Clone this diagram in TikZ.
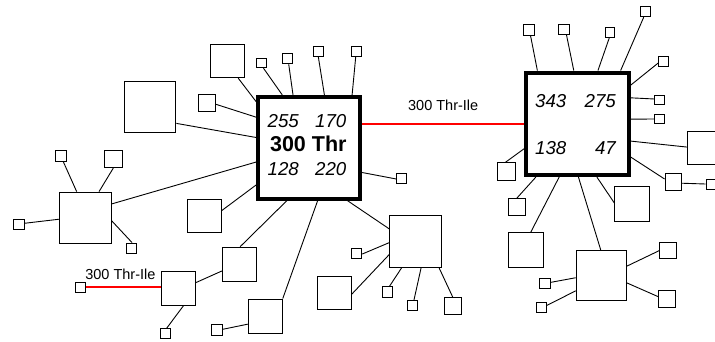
\documentclass[tikz,border=0pt]{standalone}
\usepackage{fontspec}
\setmainfont{Liberation Sans}
\usepackage{tikz}
\usepackage{xcolor}

\begin{document}
\begin{tikzpicture}[x=1pt, y=-1pt,
	hub/.style={draw, line width=4pt, minimum size=#1, inner sep=0pt},
	box/.style={draw, line width=0.95pt, minimum size=#1, inner sep=0pt},
	link/.style={line width=0.9pt},
	mut/.style={draw=red, line width=2pt},
	num/.style={font=\fontsize{18.7}{20}\selectfont\itshape, inner sep=0pt, anchor=base},
	lbl/.style={font=\fontsize{14.5}{16}\selectfont, inner sep=2pt}]

	\useasboundingbox (0,0) rectangle (715,341);

	% Two main residues
	\node[hub=102pt] (thr) at (309.2,147.8) {};
	\node[hub=102.5pt] (nbr) at (577.5,123.8) {};

	% Numbers in the boxes
	\node[num] (t255) at (283.3,127.7) {255};
	\node[num] (t170) at (330.8,127.7) {170};
	\node[num, font=\fontsize{21.5}{24}\selectfont\bfseries] (tname) at (308.3,151.7) {300 Thr};
	\node[num] (t128) at (283.3,175) {128};
	\node[num] (t220) at (330.8,175) {220};
	\node[num] (n343) at (550.8,107.7) {343};
	\node[num] (n275) at (600.2,107.7) {275};
	\node[num] (n138) at (550.8,154.3) {138};
	\node[num, anchor=base east] (n47) at (616,154.3) {47};

	% Boxes round 300 Thr
	\node[box=51.5pt] (a1) at (150.2,107) {};
	\node[box=16.5pt] (a2) at (207,103) {};
	\node[box=33.5pt] (a3) at (227.5,61) {};
	\node[box=9.5pt] (a4) at (261.7,63) {};
	\node[box=10.5pt] (a5) at (287.7,58.5) {};
	\node[box=10pt] (a6) at (318.2,51.2) {};
	\node[box=10pt] (a7) at (356.8,51.2) {};
	\node[box=10pt] (a8) at (401.7,178.8) {};
	\node[box=33.5pt] (a9) at (204.5,216.2) {};
	\node[box=34pt] (a10) at (239.5,264.2) {};
	\node[box=34pt] (a12) at (265.3,316) {};
	\node[box=10.5pt] (a13) at (217,330) {};
	\node[box=34pt] (mutL) at (178.3,288) {};
	\node[box=10pt] (a14) at (165.7,333.7) {};
	\node[box=10pt] (a15) at (80.5,287.3) {};

	\node[box=51.5pt] (hubW) at (85.7,217.8) {};
	\node[box=10.5pt] (w1) at (61.2,156.2) {};
	\node[box=17.5pt] (w2) at (113.5,158.8) {};
	\node[box=10.5pt] (w3) at (18.8,224.7) {};
	\node[box=10pt] (w4) at (131.5,248) {};

	\node[box=51.5pt] (hubSE) at (415.5,241.7) {};
	\node[box=10pt] (e1) at (356.7,253) {};
	\node[box=33.5pt] (e2) at (334.7,292.8) {};
	\node[box=10.5pt] (e3) at (387.7,292.2) {};
	\node[box=10pt] (e4) at (412.7,305.5) {};
	\node[box=17pt] (e5) at (452.8,306.2) {};

	% Boxes round the partner
	\node[box=10.5pt] (n1) at (528.8,30) {};
	\node[box=10.5pt] (n2) at (564.2,29.3) {};
	\node[box=9.5pt] (n3) at (610,32.7) {};
	\node[box=10pt] (n4) at (645.5,11.7) {};
	\node[box=9.5pt] (n5) at (663.3,61.7) {};
	\node[box=9.5pt] (n6) at (659.5,100) {};
	\node[box=9.5pt] (n7) at (659.5,119) {};
	\node[box=33.5pt] (n8) at (704.5,148) {};
	\node[box=16.5pt] (n9) at (673.3,182) {};
	\node[box=10pt] (n10) at (711,184) {};
	\node[box=17.5pt] (n11) at (506.3,171.5) {};
	\node[box=17pt] (n12) at (517,207.3) {};
	\node[box=34.5pt] (n13) at (526.2,250.2) {};
	\node[box=34.5pt] (n14) at (632.2,203.8) {};

	\node[box=50pt] (hubS) at (601.2,275.5) {};
	\node[box=16.5pt] (s1) at (668,250.3) {};
	\node[box=16.5pt] (s2) at (667,299.2) {};
	\node[box=10.5pt] (s3) at (544.8,283.5) {};
	\node[box=9.5pt] (s4) at (541.7,307.3) {};

	% Links of 300 Thr
	\draw[link] (thr.169.4) -- (a1.-32.6);
	\draw[link] (thr.150.2) -- (a2.-8.5);
	\draw[link] (thr.139.2) -- (a3.-58.6);
	\draw[link] (thr.117.8) -- (a4.-71);
	\draw[link] (thr.107.9) -- (a5.-80);
	\draw[link] (thr.74.6) -- (a6.-89);
	\draw[link] (thr.51.9) -- (a7.-101);
	\draw[link] (thr.-25.2) -- (a8.182);
	\draw[link] (thr.215.7) -- (a9.18.4);
	\draw[link] (thr.247) -- (a10.88.4);
	\draw[link] (thr.-81.3) -- (a12.45);
	\draw[link] (thr.195.4) -- (hubW.28.9);
	\draw[link] (thr.-54.6) -- (hubSE.154.1);
	\draw[link] (a12.205.6) -- (a13.7);
	\draw[link] (mutL.17.8) -- (a10.201.6);
	\draw[link] (mutL.-73.9) -- (a14.80);
	\draw[link] (hubW.109) -- (w1.-69);
	\draw[link] (hubW.63) -- (w2.-91);
	\draw[link] (hubW.183.3) -- (w3.14);
	\draw[link] (hubW.-7) -- (w4.85);
	\draw[link] (hubSE.182.2) -- (e1.-11);
	\draw[link] (hubSE.206.9) -- (e2.-4);
	\draw[link] (hubSE.242) -- (e3.74);
	\draw[link] (hubSE.-78.6) -- (e4.77);
	\draw[link] (hubSE.-48.9) -- (e5.90.6);

	% Links of the partner
	\draw[link] (nbr.127.7) -- (n1.-73);
	\draw[link] (nbr.94.5) -- (n2.-68);
	\draw[link] (nbr.69) -- (n3.-98);
	\draw[link] (nbr.51.8) -- (n4.-108);
	\draw[link] (nbr.36.6) -- (n5.195.5);
	\draw[link] (nbr.26.2) -- (n6.169);
	\draw[link] (nbr.5.9) -- (n7.180);
	\draw[link] (nbr.-18) -- (n8.177.6);
	\draw[link] (nbr.-32.5) -- (n9.161);
	\draw[link] (n9.-8.8) -- (n10.180);
	\draw[link] (nbr.205.6) -- (n11.95.6);
	\draw[link] (nbr.232) -- (n12.92);
	\draw[link] (nbr.251.3) -- (n13.76.4);
	\draw[link] (nbr.-70) -- (n14.178.3);
	\draw[link] (nbr.-89.2) -- (hubS.91);
	\draw[link] (hubS.20.4) -- (s1.182.6);
	\draw[link] (hubS.-16.4) -- (s2.164);
	\draw[link] (hubS.185.6) -- (s3.11.5);
	\draw[link] (hubS.211) -- (s4.20);

	% Mutations
	\draw[mut] (nbr.west -| thr.east) -- (nbr.west) node[midway, above=10pt, lbl] (lab1) {300 Thr-Ile};
	\draw[mut] (a15.east) -- (a15.east -| mutL.west) node[pos=.46, above=4.7pt, lbl] (lab2) {300 Thr-Ile};
\end{tikzpicture}
\end{document}
